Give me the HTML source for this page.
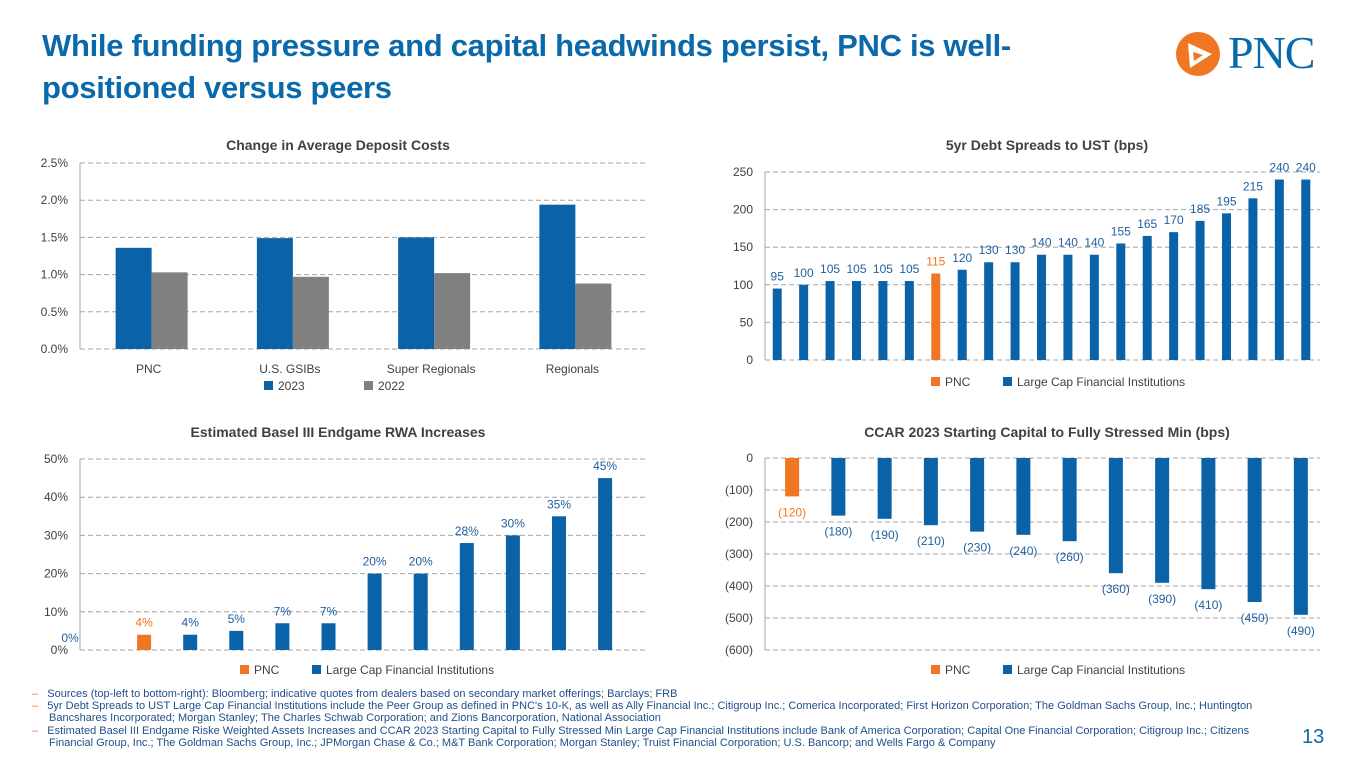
<!DOCTYPE html>
<html><head><meta charset="utf-8"><style>
body{margin:0;width:1365px;height:768px;background:#fff;font-family:"Liberation Sans",sans-serif;overflow:hidden;position:relative}
.t{position:absolute;white-space:nowrap}
svg{position:absolute;left:0;top:0}
</style></head><body>
<div class="t" style="left:42px;top:25px;font-size:31px;font-weight:bold;color:#0a69ab;line-height:42px;letter-spacing:-0.3px">While funding pressure and capital headwinds persist, PNC is well-<br>positioned versus peers</div>
<div style="position:absolute;left:1176px;top:32px;width:44px;height:44px;border-radius:50%;background:#ef7622"></div>
<svg width="1365" height="768"><polygon points="1188,43 1212,54 1190,68" fill="#fff"/><polygon points="1193,52 1203,55 1194,61" fill="#ef7622"/></svg>
<div class="t" style="left:1228px;top:26px;font-size:46px;font-family:'Liberation Serif',serif;color:#0a69ab;letter-spacing:-1px">PNC</div>
<svg id="c" width="1365" height="768"></svg>
<div class="t" style="left:32px;top:688px;font-size:11px;line-height:12.2px;color:#1f4f8a">
<div><span style="color:#ef7622">–</span>&nbsp;&nbsp; Sources (top-left to bottom-right): Bloomberg; indicative quotes from dealers based on secondary market offerings; Barclays; FRB</div>
<div><span style="color:#ef7622">–</span>&nbsp;&nbsp; 5yr Debt Spreads to UST Large Cap Financial Institutions include the Peer Group as defined in PNC's 10-K, as well as Ally Financial Inc.; Citigroup Inc.; Comerica Incorporated; First Horizon Corporation; The Goldman Sachs Group, Inc.; Huntington</div>
<div style="padding-left:17px">Bancshares Incorporated; Morgan Stanley; The Charles Schwab Corporation; and Zions Bancorporation, National Association</div>
<div><span style="color:#ef7622">–</span>&nbsp;&nbsp; Estimated Basel III Endgame Riske Weighted Assets Increases and CCAR 2023 Starting Capital to Fully Stressed Min Large Cap Financial Institutions include Bank of America Corporation; Capital One Financial Corporation; Citigroup Inc.; Citizens</div>
<div style="padding-left:17px">Financial Group, Inc.; The Goldman Sachs Group, Inc.; JPMorgan Chase &amp; Co.; M&amp;T Bank Corporation; Morgan Stanley; Truist Financial Corporation; U.S. Bancorp; and Wells Fargo &amp; Company</div>
</div>
<div class="t" style="left:1302px;top:726px;font-size:20px;color:#0a69ab">13</div>
<script>
const depCats=["PNC","U.S. GSIBs","Super Regionals","Regionals"];
const dep2023=[1.36,1.49,1.50,1.94];
const dep2022=[1.03,0.97,1.02,0.88];
const depTicks=[0,0.5,1,1.5,2,2.5];
const spreadVals=[95,100,105,105,105,105,115,120,130,130,140,140,140,155,165,170,185,195,215,240,240];
const spreadPnc=6;
const spreadTicks=[0,50,100,150,200,250];
const rwaVals=[0,4,4,5,7,7,20,20,28,30,35,45];
const rwaPnc=1;
const rwaTicks=[0,10,20,30,40,50];
const ccarVals=[-120,-180,-190,-210,-230,-240,-260,-360,-390,-410,-450,-490];
const ccarPnc=0;
const ccarTicks=[0,-100,-200,-300,-400,-500,-600];
const BLUE="#0a62a8",OR="#ef7622",GR="#808080",LBL="#1f5f9f",AX="#404040";
const svg=document.getElementById('c');
function el(tag,attrs,name,txt){const e=document.createElementNS("http://www.w3.org/2000/svg",tag);for(const k in attrs)e.setAttribute(k,attrs[k]);


if(txt!==undefined)e.textContent=txt;svg.appendChild(e);return e;}
function title(x,y,s,n){el('text',{x:x,y:y,'font-size':14,'font-weight':'bold',fill:AX,'text-anchor':'middle'},n,s);}
function grid(x0,x1,yf,ticks,fmt,n){ticks.forEach(t=>{el('line',{x1:x0,x2:x1,y1:yf(t),y2:yf(t),stroke:'#a6a6a6','stroke-dasharray':'5,3','stroke-width':1},n+'-gridline');
el('text',{x:x0-12,y:yf(t)+4,'font-size':12,fill:AX,'text-anchor':'end'},n+'-tick-label',fmt(t));});
el('line',{x1:x0,x2:x0,y1:yf(ticks[0]),y2:yf(ticks[ticks.length-1]),stroke:'#a6a6a6'},n+'-axis');}
function legend(x,y,items,n){let cx=x;items.forEach(it=>{el('rect',{x:cx,y:y-9,width:9,height:9,fill:it[1]},n+'-legend-swatch');
el('text',{x:cx+14,y:y,'font-size':12,fill:AX},n+'-legend-label',it[0]);cx+=it[2];});}
// chart 1
{const x0=80,x1=645,yf=v=>349-v/2.5*186;title(338,150,"Change in Average Deposit Costs","deposit-chart-title");
grid(x0,x1,yf,depTicks,t=>t.toFixed(1)+"%","deposit");
const step=(x1-x0)/depCats.length;
depCats.forEach((c,i)=>{const cx=x0+step*(i+0.5)+1;
el('rect',{x:cx-36,y:yf(dep2023[i]),width:36,height:yf(0)-yf(dep2023[i]),fill:BLUE},'bar-2023-'+i);
el('rect',{x:cx,y:yf(dep2022[i]),width:36,height:yf(0)-yf(dep2022[i]),fill:GR},'bar-2022-'+i);
el('text',{x:cx-3,y:373,'font-size':12,fill:AX,'text-anchor':'middle'},'category-label',c);});
legend(264,390,[["2023",BLUE,100],["2022",GR,80]],"deposit");}
// chart 2
{const x0=765,x1=1320,yf=v=>360-v/250*188;title(1047,150,"5yr Debt Spreads to UST (bps)","spread-chart-title");
grid(x0,x1,yf,spreadTicks,t=>String(t),"spread");
const step=(x1-x0)/spreadVals.length;
spreadVals.forEach((v,i)=>{const cx=x0+step*(i+0.5)-1;const col=i===spreadPnc?OR:BLUE;
el('rect',{x:cx-4.5,y:yf(v),width:9,height:yf(0)-yf(v),fill:col},'spread-bar');
el('text',{x:cx,y:yf(v)-8,'font-size':12,fill:i===spreadPnc?OR:LBL,'text-anchor':'middle'},'spread-value-label',v);});
legend(931,386,[["PNC",OR,72],["Large Cap Financial Institutions",BLUE,200]],"spread");}
// chart 3
{const x0=80,x1=645,yf=v=>650-v/50*191;title(338,437,"Estimated Basel III Endgame RWA Increases","rwa-chart-title");
grid(x0,x1,yf,rwaTicks,t=>t+"%","rwa");
const step=46.1,first=98;
rwaVals.forEach((v,i)=>{const cx=first+step*i;const col=i===rwaPnc?OR:BLUE;
el('rect',{x:cx-7,y:yf(v),width:14,height:yf(0)-yf(v),fill:col},'rwa-bar');
el('text',{x:i===0?cx-28:cx,y:yf(v)-8,'font-size':12,fill:i===rwaPnc?OR:LBL,'text-anchor':'middle'},'rwa-value-label',v+"%");});
legend(240,674,[["PNC",OR,72],["Large Cap Financial Institutions",BLUE,200]],"rwa");}
// chart 4
{const x0=765,x1=1320,yf=v=>458+(-v)/600*192;title(1047,437,"CCAR 2023 Starting Capital to Fully Stressed Min (bps)","ccar-chart-title");
grid(x0,x1,yf,ccarTicks,t=>t===0?"0":"("+(-t)+")","ccar");
const step=(x1-x0)/ccarVals.length;
ccarVals.forEach((v,i)=>{const cx=x0+step*(i+0.5)+4;const col=i===ccarPnc?OR:BLUE;
el('rect',{x:cx-7,y:yf(0),width:14,height:yf(v)-yf(0),fill:col},'ccar-bar');
el('text',{x:cx,y:yf(v)+20,'font-size':12,fill:i===ccarPnc?OR:LBL,'text-anchor':'middle'},'ccar-value-label',"("+(-v)+")");});
legend(931,674,[["PNC",OR,72],["Large Cap Financial Institutions",BLUE,200]],"ccar");}
</script>
</body></html>
